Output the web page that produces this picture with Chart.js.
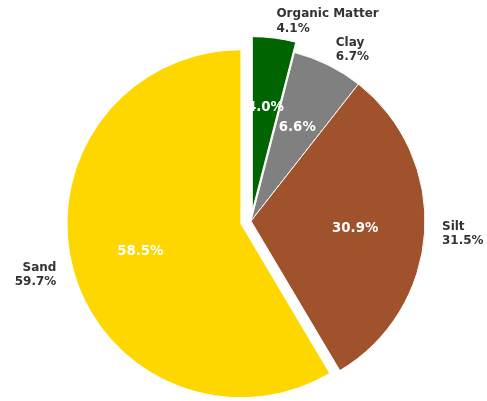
<!DOCTYPE html>
<html>
<head>
<meta charset="utf-8">
<script src="https://cdn.jsdelivr.net/npm/chart.js@4/dist/chart.umd.min.js"></script>
<style>
  html, body { margin: 0; padding: 0; background: #ffffff; }
  #wrap { width: 487px; height: 401px; position: relative; }
</style>
</head>
<body>
<div id="wrap"><canvas id="c"></canvas></div>
<script>
const categories = ["Organic Matter", "Clay", "Silt", "Sand"];
const values = [4.1, 6.7, 31.5, 59.7];
const colors = ["#006400", "#808080", "#A0522D", "#FFD700"];
const explodeFrac = [0.06, 0, 0, 0.06];

const total = values.reduce((a, b) => a + b, 0);

const explodePlugin = {
  id: 'explode',
  afterDatasetUpdate(chart, args) {
    const meta = args.meta;
    meta.data.forEach((el, i) => {
      const f = explodeFrac[i] || 0;
      if (!f) return;
      const mid = (el.startAngle + el.endAngle) / 2;
      const d = f * el.outerRadius;
      el.x += Math.cos(mid) * d;
      el.y += Math.sin(mid) * d;
    });
  }
};

const labelPlugin = {
  id: 'pieLabels',
  afterDatasetsDraw(chart) {
    const ctx = chart.ctx;
    const meta = chart.getDatasetMeta(0);
    ctx.save();
    meta.data.forEach((el, i) => {
      const mid = (el.startAngle + el.endAngle) / 2;
      const r = el.outerRadius;
      const c = Math.cos(mid), s = Math.sin(mid);
      // outer label
      const lx = el.x + c * r * 1.1;
      const ly = el.y + s * r * 1.1;
      ctx.font = 'bold 12px "DejaVu Sans"';
      ctx.fillStyle = '#333333';
      ctx.textAlign = c >= 0 ? 'left' : 'right';
      ctx.textBaseline = 'alphabetic';
      const lines = [categories[i], values[i].toFixed(1) + '%'];
      ctx.fillText(lines[0], lx, ly - 3.5);
      ctx.fillText(lines[1], lx, ly + 10.9);
      // percentage inside
      const px = el.x + c * r * 0.6;
      const py = el.y + s * r * 0.6;
      ctx.font = 'bold 13.33px "DejaVu Sans"';
      ctx.fillStyle = '#ffffff';
      ctx.textAlign = 'center';
      ctx.fillText((values[i] / total * 100).toFixed(1) + '%', px, py + 4);
    });
    ctx.restore();
  }
};

new Chart(document.getElementById('c'), {
  type: 'pie',
  data: {
    labels: categories,
    datasets: [{
      data: values,
      backgroundColor: colors,
      borderColor: '#ffffff',
      borderWidth: 1
    }]
  },
  options: {
    responsive: true,
    maintainAspectRatio: false,
    animation: false,
    radius: 174,
    layout: { padding: { left: 15, right: 0, top: 41, bottom: 0 } },
    plugins: {
      legend: { display: false },
      tooltip: { enabled: false }
    }
  },
  plugins: [explodePlugin, labelPlugin]
});
</script>
</body>
</html>
